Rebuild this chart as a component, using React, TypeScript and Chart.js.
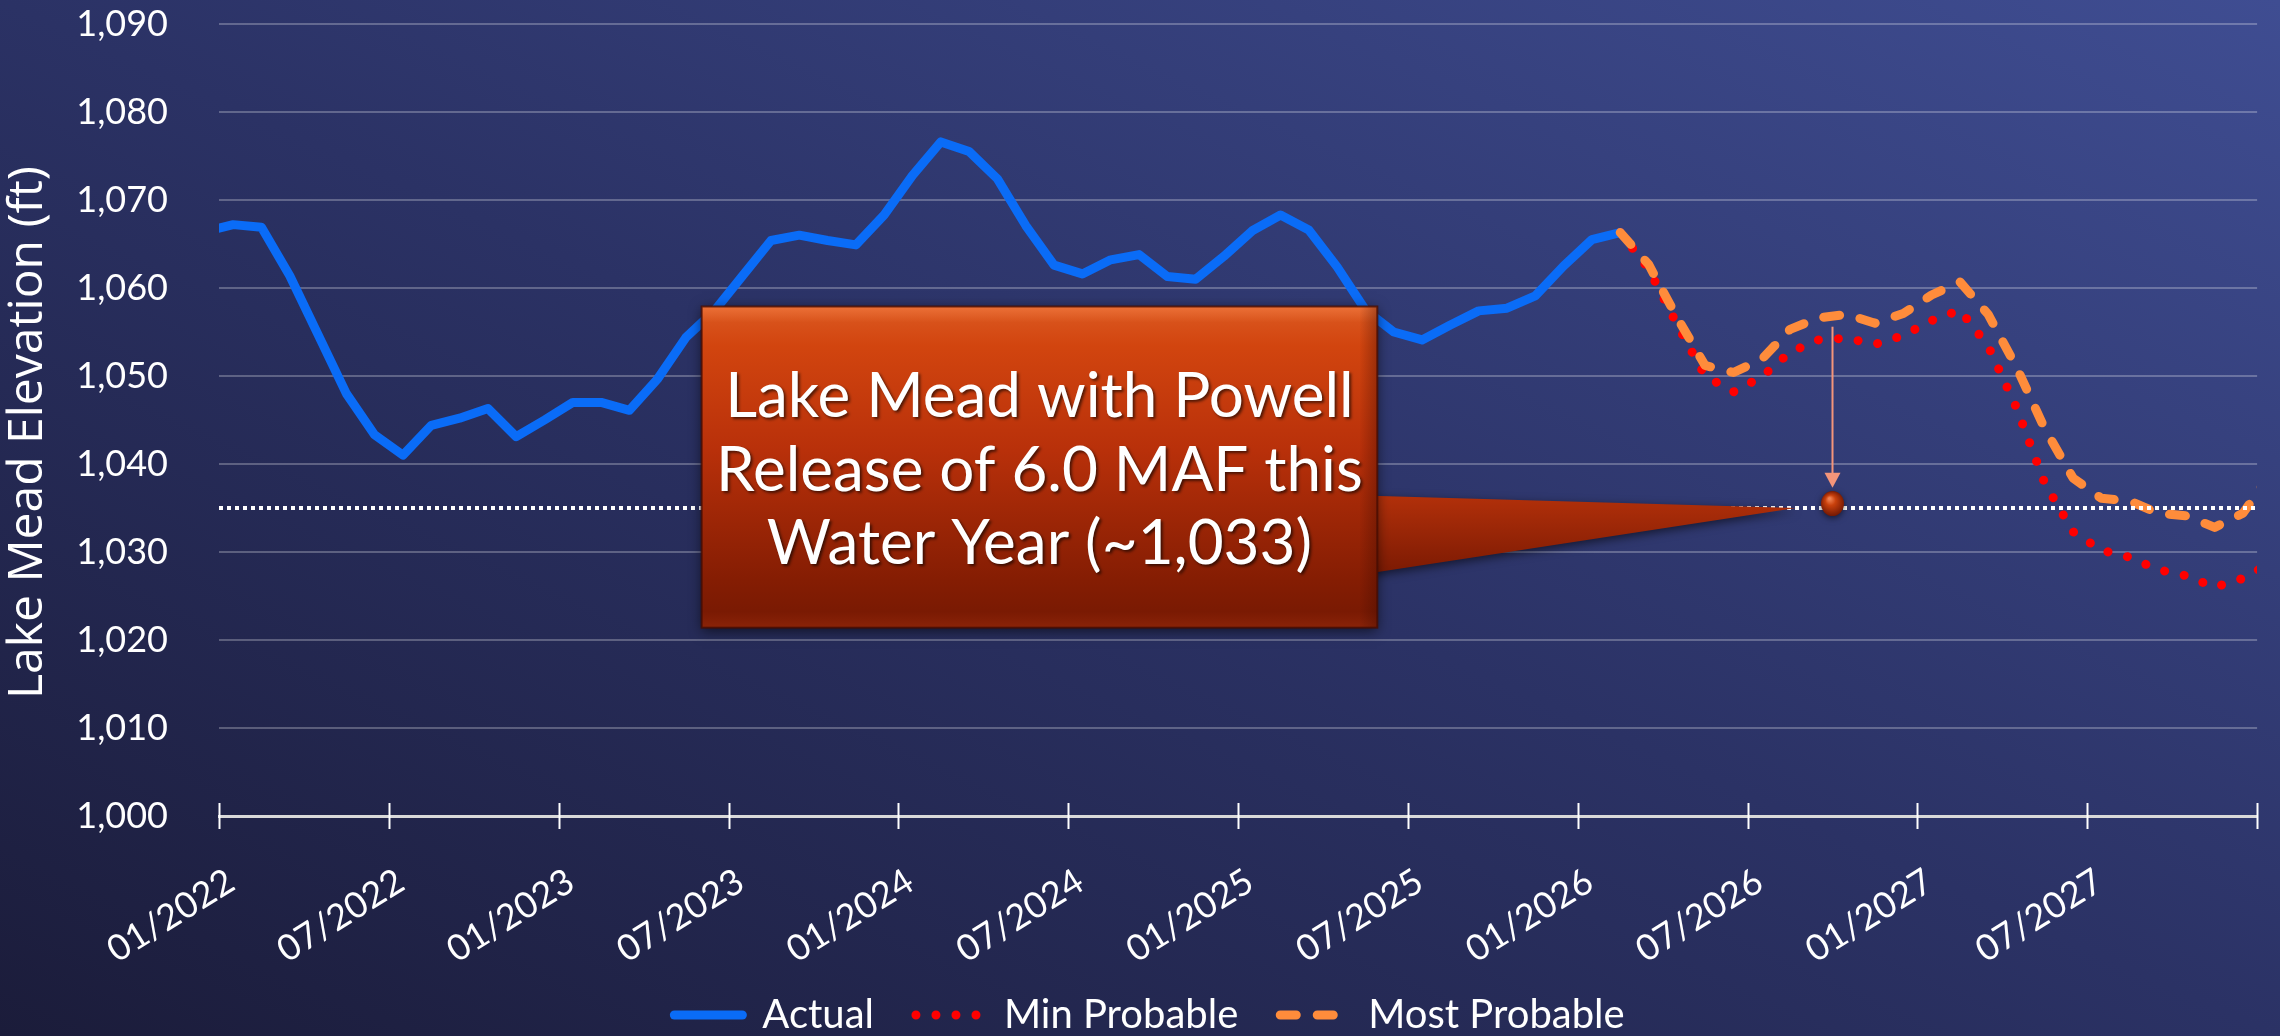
import React, { useEffect, useRef } from 'react';
import { Chart, registerables } from 'chart.js';

Chart.register(...registerables);

// ---- Data (month index 0 = Jan 2022; each value sits mid-month) ----
const ACTUAL_FIRST_MONTH = -1; // Dec 2021
const actualElevation = [
  1066.4, 1067.2, 1066.9, 1061.4, 1054.7, 1048.0, 1043.3, 1041.0, 1044.4, 1045.2,
  1046.3, 1043.1, 1045.0, 1047.0, 1047.0, 1046.1, 1049.7, 1054.4, 1057.4, 1061.4,
  1065.4, 1066.0, 1065.4, 1064.9, 1068.3, 1072.8, 1076.6, 1075.5, 1072.4, 1067.1,
  1062.6, 1061.6, 1063.2, 1063.8, 1061.3, 1061.0, 1063.6, 1066.5, 1068.3, 1066.6,
  1062.4, 1057.5, 1055.0, 1054.1, 1055.8, 1057.4, 1057.7, 1059.1, 1062.5, 1065.5,
  1066.3,
];

const FORECAST_FIRST_MONTH = 49; // Feb 2026
const minProbable = [
  1066.3, 1062.2, 1055.9, 1050.0, 1048.2, 1049.9, 1052.7, 1054.1, 1054.3, 1053.6,
  1054.6, 1056.3, 1057.5, 1053.4, 1046.4, 1037.8, 1032.3, 1030.2, 1029.4, 1028.0,
  1027.3, 1026.0, 1027.0, 1028.8,
];
const mostProbable = [
  1066.3, 1062.7, 1056.7, 1051.2, 1050.4, 1051.9, 1055.3, 1056.6, 1057.0, 1056.0,
  1057.1, 1059.2, 1060.7, 1057.0, 1051.0, 1044.0, 1038.4, 1036.1, 1035.8, 1034.4,
  1034.1, 1032.8, 1034.4, 1039.0,
];

const tickLabels = [
  '01/2022', '07/2022', '01/2023', '07/2023', '01/2024', '07/2024',
  '01/2025', '07/2025', '01/2026', '07/2026', '01/2027', '07/2027',
];
const referenceLevel = [1035, 1035];
const referenceSpan = [0, 72];

const markerMonth = 57; // end of water year (Oct 2026)
const markerLevel = 1035.5;
const calloutLines = ['Lake Mead with Powell', 'Release of 6.0 MAF this', 'Water Year (~1,033)'];

const FONT = 'Lato, "Noto Sans", sans-serif';
const TITLE_FONT = '"Open Sans", "Noto Sans", sans-serif';

const toPoints = (values: number[], first: number) =>
  values.map((v, i) => ({ x: first + i + 0.5, y: v }));

const LEGEND_SHIFT_X = 20;

const calloutPlugin = {
  id: 'calloutPlugin',
  afterLayout(chart: any) {
    // let rotated tick labels extend below the scale box instead of being clipped
    const xs = chart.scales.x;
    if (xs) xs.bottom = chart.height;
    const lg = chart.legend;
    if (lg) {
      lg.left += LEGEND_SHIFT_X;
      lg.right += LEGEND_SHIFT_X;
    }
  },
  afterDatasetsDraw(chart: any) {
    const { ctx, scales } = chart;
    const xs = scales.x;
    const ys = scales.y;
    const px = (m: number) => xs.getPixelForValue(m);
    const py = (v: number) => ys.getPixelForValue(v);

    ctx.save();
    // vertical arrow
    const ax = px(markerMonth);
    const aTop = py(1055.6);
    const aTip = py(1037.3);
    ctx.strokeStyle = '#F4957A';
    ctx.fillStyle = '#F4957A';
    ctx.lineWidth = 2;
    ctx.beginPath();
    ctx.moveTo(ax, aTop);
    ctx.lineTo(ax, aTip - 12);
    ctx.stroke();
    ctx.beginPath();
    ctx.moveTo(ax - 8, aTip - 15);
    ctx.lineTo(ax + 8, aTip - 15);
    ctx.lineTo(ax, aTip);
    ctx.closePath();
    ctx.fill();

    // marker sphere
    const mx = px(markerMonth);
    const my = py(markerLevel);
    ctx.save();
    ctx.shadowColor = 'rgba(0,0,0,0.55)';
    ctx.shadowBlur = 6;
    ctx.shadowOffsetY = 2;
    const rg = ctx.createRadialGradient(mx - 3, my - 5, 1, mx, my, 13);
    rg.addColorStop(0, '#f08050');
    rg.addColorStop(0.35, '#c8400c');
    rg.addColorStop(1, '#6e1603');
    ctx.fillStyle = rg;
    ctx.beginPath();
    ctx.ellipse(mx, my, 11.5, 12.5, 0, 0, Math.PI * 2);
    ctx.fill();
    ctx.restore();

    // callout geometry (data coordinates)
    const bx0 = px(17.05);
    const bx1 = px(40.92);
    const by0 = py(1057.9);
    const by1 = py(1021.4);

    // pointer
    ctx.save();
    ctx.shadowColor = 'rgba(0,0,0,0.55)';
    ctx.shadowBlur = 10;
    ctx.shadowOffsetY = 3;
    const pg = ctx.createLinearGradient(0, py(1036.4), 0, py(1027.6));
    pg.addColorStop(0, '#b2300a');
    pg.addColorStop(1, '#7c1a03');
    ctx.fillStyle = pg;
    ctx.beginPath();
    ctx.moveTo(bx1 - 6, py(1036.4));
    ctx.lineTo(px(55.7), py(1035));
    ctx.lineTo(bx1 - 6, py(1027.6));
    ctx.closePath();
    ctx.fill();
    ctx.restore();

    // box
    ctx.save();
    ctx.shadowColor = 'rgba(0,0,0,0.6)';
    ctx.shadowBlur = 12;
    ctx.shadowOffsetY = 3;
    const g = ctx.createLinearGradient(0, by0, 0, by1);
    g.addColorStop(0, '#dc5a22');
    g.addColorStop(0.12, '#d2450f');
    g.addColorStop(0.45, '#b8300a');
    g.addColorStop(0.85, '#851d03');
    g.addColorStop(0.95, '#7a1a03');
    g.addColorStop(1, '#8a2308');
    ctx.fillStyle = g;
    ctx.fillRect(bx0, by0, bx1 - bx0, by1 - by0);
    ctx.restore();
    // bevel shading
    const hg = ctx.createLinearGradient(0, by0, 0, by0 + 16);
    hg.addColorStop(0, 'rgba(255,140,80,0.45)');
    hg.addColorStop(1, 'rgba(255,140,80,0)');
    ctx.fillStyle = hg;
    ctx.fillRect(bx0, by0, bx1 - bx0, 16);
    const rgd = ctx.createLinearGradient(bx1 - 18, 0, bx1, 0);
    rgd.addColorStop(0, 'rgba(60,10,0,0)');
    rgd.addColorStop(1, 'rgba(60,10,0,0.35)');
    ctx.fillStyle = rgd;
    ctx.fillRect(bx1 - 18, by0, 18, by1 - by0);
    ctx.strokeStyle = 'rgba(70,12,2,0.8)';
    ctx.lineWidth = 2;
    ctx.strokeRect(bx0, by0, bx1 - bx0, by1 - by0);

    // text
    ctx.fillStyle = '#ffffff';
    ctx.font = `62px ${FONT}`;
    ctx.textAlign = 'center';
    ctx.textBaseline = 'alphabetic';
    ctx.shadowColor = 'rgba(0,0,0,0.6)';
    ctx.shadowBlur = 3;
    ctx.shadowOffsetX = 2;
    ctx.shadowOffsetY = 2;
    const cx = (bx0 + bx1) / 2;
    const cy = (by0 + by1) / 2;
    calloutLines.forEach((line, i) => {
      ctx.fillText(line, cx, cy + 23.5 + (i - 1) * 73.3);
    });
    ctx.restore();
  },
  afterDraw(chart: any) {
    const { ctx, scales, chartArea } = chart;
    const xs = scales.x;
    ctx.save();
    ctx.strokeStyle = '#ffffff';
    ctx.lineWidth = 2;
    xs.ticks.forEach((t: any) => {
      const x = Math.round(xs.getPixelForValue(t.value)) + 0.5;
      ctx.beginPath();
      ctx.moveTo(x, chartArea.bottom - 13);
      ctx.lineTo(x, chartArea.bottom + 13);
      ctx.stroke();
    });
    ctx.restore();
  },
};

export default function App() {
  const ref = useRef<HTMLCanvasElement | null>(null);

  useEffect(() => {
    document.body.style.margin = '0';
    const canvas = ref.current;
    if (!canvas) return;
    const baseLabels = (Chart as any).defaults.plugins.legend.labels.generateLabels;
    const chart = new Chart(canvas, {
      type: 'line',
      data: {
        datasets: [
          {
            label: 'Actual',
            data: toPoints(actualElevation, ACTUAL_FIRST_MONTH),
            borderColor: '#0A6CF7',
            backgroundColor: '#0A6CF7',
            borderWidth: 9,
            borderCapStyle: 'round',
            borderJoinStyle: 'round',
            pointRadius: 0,
            tension: 0,
            order: 2,
            clip: 0,
          },
          {
            label: 'Min Probable',
            data: toPoints(minProbable, FORECAST_FIRST_MONTH),
            borderColor: '#FF0000',
            backgroundColor: '#FF0000',
            borderWidth: 9,
            borderDash: [0.01, 20],
            borderCapStyle: 'round',
            borderJoinStyle: 'round',
            pointRadius: 0,
            tension: 0,
            order: 3,
            clip: 0,
          },
          {
            label: 'Most Probable',
            data: toPoints(mostProbable, FORECAST_FIRST_MONTH),
            borderColor: '#FF8C3B',
            backgroundColor: '#FF8C3B',
            borderWidth: 9,
            borderDash: [16, 21],
            borderCapStyle: 'round',
            borderJoinStyle: 'round',
            pointRadius: 0,
            tension: 0,
            order: 1,
            clip: 0,
          },
          {
            label: 'threshold',
            data: referenceSpan.map((m, i) => ({ x: m, y: referenceLevel[i] })),
            borderColor: '#FFFFFF',
            backgroundColor: '#FFFFFF',
            borderWidth: 4,
            borderDash: [4, 4],
            pointRadius: 0,
            order: 0,
            clip: 0,
          },
        ],
      } as any,
      options: {
        animation: false,
        responsive: true,
        maintainAspectRatio: false,
        events: [],
        layout: { padding: { left: 0, right: 21, top: 24, bottom: -9 } },
        plugins: {
          tooltip: { enabled: false },
          legend: {
            position: 'bottom',
            labels: {
              color: '#FFFFFF',
              font: { family: FONT, size: 40 },
              usePointStyle: true,
              pointStyle: 'line',
              pointStyleWidth: 68,
              boxHeight: 40,
              padding: 42,
              generateLabels: (c: any) =>
                baseLabels(c).map((it: any) => {
                  const ds = c.data.datasets[it.datasetIndex];
                  return {
                    ...it,
                    pointStyle: 'line',
                    lineDash: ds.borderDash || [],
                    lineCap: ds.borderCapStyle || 'butt',
                    lineWidth: ds.borderWidth,
                    strokeStyle: ds.borderColor,
                    fillStyle: ds.borderColor,
                  };
                }),
              filter: (item: any) => item.text !== 'threshold',
              sort: (a: any, b: any) => a.datasetIndex - b.datasetIndex,
            },
          },
        },
        scales: {
          x: {
            type: 'linear',
            min: 0,
            max: 72,
            afterFit: (scale: any) => {
              scale.height = 137;
            },
            ticks: {
              stepSize: 6,
              autoSkip: false,
              maxRotation: 32,
              minRotation: 32,
              color: '#FFFFFF',
              font: { family: FONT, size: 36 },
              padding: 0,
              labelOffset: 12,
              callback: (_v: any, i: number) => tickLabels[i] ?? '',
            },
            grid: {
              drawOnChartArea: false,
              drawTicks: true,
              tickLength: 44,
              tickColor: 'rgba(0,0,0,0)',
              color: 'rgba(0,0,0,0)',
              lineWidth: 2,
            },
            border: { display: true, color: '#D9D9D9', width: 3 },
          },
          y: {
            min: 1000,
            max: 1090,
            afterFit: (scale: any) => {
              scale.width = 219;
            },
            ticks: {
              stepSize: 10,
              color: '#FFFFFF',
              font: { family: FONT, size: 36 },
              padding: 0,
              callback: (v: any) => Number(v).toLocaleString('en-US'),
            },
            grid: {
              color: 'rgba(255,255,255,0.26)',
              lineWidth: 2,
              drawTicks: true,
              tickLength: 51,
              tickColor: 'rgba(0,0,0,0)',
            },
            border: { display: false },
            title: {
              display: true,
              text: 'Lake Mead Elevation (ft)\u00A0\u00A0',
              color: '#FFFFFF',
              font: { family: TITLE_FONT, size: 48 },
              padding: { top: 0, bottom: 0 },
            },
          },
        },
      } as any,
      plugins: [calloutPlugin],
    });
    return () => chart.destroy();
  }, []);

  return (
    <div
      style={{
        position: 'fixed',
        left: 0,
        top: 0,
        width: 2280,
        height: 1036,
        background: 'linear-gradient(to top right, #1b1c3a 0%, #2b3265 50%, #3f4d92 100%)',
      }}
    >
      <canvas ref={ref} />
    </div>
  );
}
